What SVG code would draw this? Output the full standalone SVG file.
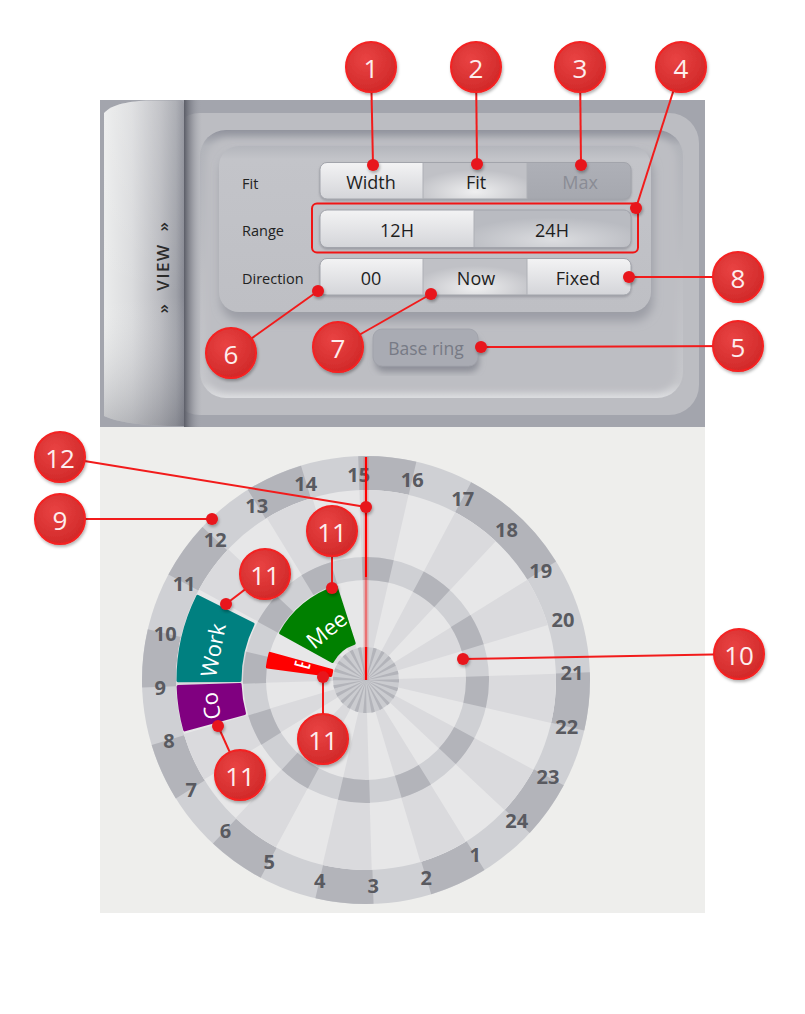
<svg xmlns="http://www.w3.org/2000/svg" width="805" height="1014" viewBox="0 0 805 1014">
<style>
.ui{font-family:"Open Sans","Noto Sans","DejaVu Sans",sans-serif}
.lbl{font-size:14.5px;fill:#222;dominant-baseline:central}
.btn{font-size:18px;fill:#1e1e1e;text-anchor:middle;dominant-baseline:central}
.hr{font-family:"Open Sans","Noto Sans","DejaVu Sans",sans-serif;font-size:20px;font-weight:700;fill:#595a60;text-anchor:middle;dominant-baseline:central}
.ev{font-family:"Open Sans","Noto Sans","DejaVu Sans",sans-serif;font-size:22px;fill:#fff;text-anchor:middle;dominant-baseline:central}
.lead{stroke:#f21b1b;stroke-width:2;fill:none}
.dot{fill:#e8161b;filter:url(#dsh)}
.badge circle{fill:url(#badgeGrad);stroke:#f42020;stroke-width:2;filter:url(#dsh)}
.badge text{font-family:"Open Sans","Noto Sans","DejaVu Sans",sans-serif;font-size:26px;fill:#fdeeee;text-anchor:middle;dominant-baseline:central}
.rowline{fill:none;stroke:#a2a4ab;stroke-width:1}
.sep{stroke:#aeb0b6;stroke-width:1}
</style>
<defs>
<linearGradient id="tabGrad" x1="0" y1="0" x2="1" y2="0">
<stop offset="0" stop-color="#ebecec"/><stop offset="0.35" stop-color="#dadbdd"/><stop offset="0.7" stop-color="#babbc0"/><stop offset="0.9" stop-color="#a0a2a9"/><stop offset="1" stop-color="#868892"/>
</linearGradient>
<linearGradient id="tabShade" x1="0" y1="0" x2="0" y2="1">
<stop offset="0" stop-color="#ffffff" stop-opacity="0.15"/><stop offset="0.6" stop-color="#ffffff" stop-opacity="0"/><stop offset="1" stop-color="#50525c" stop-opacity="0.3"/>
</linearGradient>
<linearGradient id="tabShadow" x1="0" y1="0" x2="1" y2="0">
<stop offset="0" stop-color="#5b5d67"/><stop offset="1" stop-color="#a5a7af" stop-opacity="0"/>
</linearGradient>
<linearGradient id="insetV" x1="0" y1="0" x2="0" y2="1">
<stop offset="0" stop-color="#92949e"/><stop offset="0.06" stop-color="#b2b4ba"/><stop offset="0.5" stop-color="#bdbec3"/><stop offset="0.94" stop-color="#c6c7cb"/><stop offset="1" stop-color="#dcdde0"/>
</linearGradient>
<linearGradient id="groupV" x1="0" y1="0" x2="0" y2="1">
<stop offset="0" stop-color="#b4b6bc"/><stop offset="0.08" stop-color="#c3c4c9"/><stop offset="1" stop-color="#bebfc4"/>
</linearGradient>
<linearGradient id="gLight" x1="0" y1="0" x2="0" y2="1">
<stop offset="0" stop-color="#f3f3f4"/><stop offset="1" stop-color="#d4d5d9"/>
</linearGradient>
<radialGradient id="gGlow" cx="0.5" cy="0.8" r="0.6">
<stop offset="0" stop-color="#efeff0"/><stop offset="1" stop-color="#c0c1c6"/>
</radialGradient>
<radialGradient id="gGlow2" cx="0.5" cy="0.8" r="0.6">
<stop offset="0" stop-color="#dcdde0"/><stop offset="1" stop-color="#b9bbc1"/>
</radialGradient>
<linearGradient id="gDark" x1="0" y1="0" x2="0" y2="1">
<stop offset="0" stop-color="#aeb0b7"/><stop offset="1" stop-color="#a6a8af"/>
</linearGradient>
<radialGradient id="badgeGrad" cx="0.4" cy="0.35" r="0.7">
<stop offset="0" stop-color="#e94343"/><stop offset="1" stop-color="#d02828"/>
</radialGradient>
<filter id="blur3" x="-10%" y="-10%" width="120%" height="120%"><feGaussianBlur stdDeviation="3"/></filter>
<filter id="blur5" x="-20%" y="-20%" width="140%" height="140%"><feGaussianBlur stdDeviation="5"/></filter>
<filter id="dsh" x="-30%" y="-30%" width="160%" height="160%"><feDropShadow dx="1" dy="2" stdDeviation="1.8" flood-color="#000" flood-opacity="0.3"/></filter>
<filter id="rsh" x="-5%" y="-20%" width="110%" height="150%"><feDropShadow dx="0" dy="1.5" stdDeviation="1.2" flood-color="#6a6c75" flood-opacity="0.45"/></filter>
<clipPath id="r1"><rect x="320" y="162.5" width="311" height="36.5" rx="7"/></clipPath>
<clipPath id="r2"><rect x="320" y="210" width="311" height="37.5" rx="7"/></clipPath>
<clipPath id="r3"><rect x="320" y="258.5" width="311" height="36.5" rx="7"/></clipPath>
<clipPath id="cMee"><path d="M280.6,633.0 A97.5,97.5 0 0 1 336.2,587.2 L354.2,643.3 A38.5,38.5 0 0 0 332.3,661.5 Z"/></clipPath>
<clipPath id="cB"><path d="M267.35,667.0 A99.5,99.5 0 0 1 270.1,653.4 L331.8,670.5 A35.5,35.5 0 0 0 330.8,675.4 Z"/></clipPath>
</defs>

<rect x="0" y="0" width="805" height="1014" fill="#ffffff"/>

<g id="view-panel" class="ui">
<rect x="100" y="100" width="605" height="327" fill="#a3a5ad"/>
<rect x="170" y="113" width="529" height="302" rx="30" fill="#bcbdc2"/>
<rect x="200" y="130" width="483" height="268" rx="26" fill="url(#insetV)"/>
<rect x="206" y="138" width="471" height="254" rx="22" fill="#bdbec3" filter="url(#blur3)"/>
<rect x="221" y="153" width="432" height="168" rx="20" fill="#9c9ea6" filter="url(#blur5)"/>
<rect x="219" y="146" width="432" height="166" rx="20" fill="url(#groupV)"/>

<text class="lbl" x="242" y="183">Fit</text>
<text class="lbl" x="242" y="230">Range</text>
<text class="lbl" x="242" y="278">Direction</text>

<g id="row-fit" filter="url(#rsh)">
<g clip-path="url(#r1)">
<rect x="320" y="162.5" width="103" height="36.5" fill="url(#gLight)"/>
<rect x="423" y="162.5" width="104" height="36.5" fill="url(#gGlow)"/>
<rect x="527" y="162.5" width="104" height="36.5" fill="url(#gDark)"/>
</g>
<rect class="rowline" x="320" y="162.5" width="311" height="36.5" rx="7"/>
</g>
<line class="sep" x1="423" y1="163" x2="423" y2="199"/>
<line class="sep" x1="527" y1="163" x2="527" y2="199"/>
<text class="btn" x="371" y="182">Width</text>
<text class="btn" x="476" y="182">Fit</text>
<text class="btn" x="580" y="182" style="fill:#8a8c95">Max</text>

<g id="row-range" filter="url(#rsh)">
<g clip-path="url(#r2)">
<rect x="320" y="210" width="154" height="37.5" fill="url(#gLight)"/>
<rect x="474" y="210" width="157" height="37.5" fill="url(#gGlow2)"/>
</g>
<rect class="rowline" x="320" y="210" width="311" height="37.5" rx="7"/>
</g>
<line class="sep" x1="474" y1="210.5" x2="474" y2="247"/>
<text class="btn" x="397" y="229.5">12H</text>
<text class="btn" x="552" y="229.5">24H</text>

<g id="row-direction" filter="url(#rsh)">
<g clip-path="url(#r3)">
<rect x="320" y="258.5" width="103" height="36.5" fill="url(#gLight)"/>
<rect x="423" y="258.5" width="104" height="36.5" fill="url(#gGlow)"/>
<rect x="527" y="258.5" width="104" height="36.5" fill="url(#gLight)"/>
</g>
<rect class="rowline" x="320" y="258.5" width="311" height="36.5" rx="7"/>
</g>
<line class="sep" x1="423" y1="259" x2="423" y2="295"/>
<line class="sep" x1="527" y1="259" x2="527" y2="295"/>
<text class="btn" x="371" y="278">00</text>
<text class="btn" x="476" y="278">Now</text>
<text class="btn" x="578" y="278">Fixed</text>

<g id="base-ring">
<rect x="375" y="336" width="104" height="36" rx="9" fill="#8d8f98" filter="url(#blur3)"/>
<rect x="373" y="329" width="105" height="37" rx="9" fill="#a9abb3" stroke="#a2a4ac"/>
<text class="btn" x="426" y="348" style="fill:#777a85;font-size:17.5px">Base ring</text>
</g>

<rect x="184" y="100" width="18" height="327" fill="url(#tabShadow)"/>
<g id="view-tab">
<path d="M104,113 C112,104 130,101 150,100.5 L179,100.5 C182.5,100.5 184,102.5 184,106 L184,426 L168,426 C140,425 116,422 104,416 Z" fill="url(#tabGrad)"/>
<path d="M104,113 C112,104 130,101 150,100.5 L179,100.5 C182.5,100.5 184,102.5 184,106 L184,426 L168,426 C140,425 116,422 104,416 Z" fill="url(#tabShade)"/>
<text transform="translate(162,267) rotate(-90)" text-anchor="middle" dominant-baseline="central" style="font-size:17px;font-weight:600;fill:#2b2b2b;letter-spacing:1.5px" xml:space="preserve">»  VIEW  »</text>
</g>
<rect id="range-highlight" x="312" y="203.5" width="326" height="49" rx="5" fill="none" stroke="#f01515" stroke-width="2"/>
</g>

<g id="clock">
<rect x="100" y="427" width="605" height="486" fill="#eeeeec"/>
<circle cx="366" cy="680" r="224" fill="#cfd0d4"/>
<circle cx="366" cy="680" r="207" fill="none" stroke="#b3b4ba" stroke-width="34" stroke-dasharray="54.19 54.19 108.38 108.38 54.19 54.19 54.19 54.19 54.19 54.19 54.19 54.19 54.19 54.19 54.19 54.19 54.19 54.19 54.19 54.19 54.19 54.19 54.19 54.19 54.19 54.19 54.19 54.19" transform="rotate(-92 366 680)"/>
<circle cx="366" cy="680" r="190" fill="#e7e7e8"/>
<circle cx="366" cy="680" r="95" fill="none" stroke="#dadadd" stroke-width="190" stroke-dasharray="24.87 24.87" transform="rotate(-92 366 680)"/>
<circle cx="366" cy="680" r="111.5" fill="none" stroke="#cfd0d4" stroke-width="23"/>
<circle cx="366" cy="680" r="111.5" fill="none" stroke="#b3b4ba" stroke-width="23" stroke-dasharray="29.19 29.19" transform="rotate(-92 366 680)"/>
<circle cx="366" cy="680" r="33" fill="#cbccd0"/>
<circle cx="366" cy="680" r="16.5" fill="none" stroke="#b3b4ba" stroke-width="33" stroke-dasharray="1.728 2.592" transform="rotate(-92 366 680)"/>

<g id="hour-labels">
<text class="hr" x="358.8" y="474.1">15</text>
<text class="hr" x="412.3" y="479.3">16</text>
<text class="hr" x="462.7" y="498.1">17</text>
<text class="hr" x="506.5" y="529.3">18</text>
<text class="hr" x="540.7" y="570.8">19</text>
<text class="hr" x="563.0" y="619.8">20</text>
<text class="hr" x="571.9" y="672.8">21</text>
<text class="hr" x="566.7" y="726.3">22</text>
<text class="hr" x="547.9" y="776.7">23</text>
<text class="hr" x="516.7" y="820.5">24</text>
<text class="hr" x="475.2" y="854.7">1</text>
<text class="hr" x="426.2" y="877.0">2</text>
<text class="hr" x="373.2" y="885.9">3</text>
<text class="hr" x="319.7" y="880.7">4</text>
<text class="hr" x="269.3" y="861.9">5</text>
<text class="hr" x="225.5" y="830.7">6</text>
<text class="hr" x="191.3" y="789.2">7</text>
<text class="hr" x="169.0" y="740.2">8</text>
<text class="hr" x="160.1" y="687.2">9</text>
<text class="hr" x="165.3" y="633.7">10</text>
<text class="hr" x="184.1" y="583.3">11</text>
<text class="hr" x="215.3" y="539.5">12</text>
<text class="hr" x="256.8" y="505.3">13</text>
<text class="hr" x="305.8" y="483.0">14</text>
</g>

<g id="event-work">
<path d="M178.0,680.7 A188,188 0 0 1 197.6,596.4 L253.1,624.0 A126,126 0 0 0 240.0,680.4 Z" fill="#008080" stroke="#008080" stroke-width="3" stroke-linejoin="round"/>
<text class="ev" transform="translate(212,650) rotate(-79)">Work</text>
</g>
<g id="event-co">
<path d="M184.7,729.9 A188,188 0 0 1 178.1,686.6 L240.1,684.4 A126,126 0 0 0 244.5,713.5 Z" fill="#800080" stroke="#800080" stroke-width="3" stroke-linejoin="round"/>
<text class="ev" transform="translate(210,706) rotate(-99.5)">Co</text>
</g>
<g id="event-mee">
<path d="M280.6,633.0 A97.5,97.5 0 0 1 336.2,587.2 L354.2,643.3 A38.5,38.5 0 0 0 332.3,661.5 Z" fill="#008000" stroke="#008000" stroke-width="3" stroke-linejoin="round"/>
<g clip-path="url(#cMee)"><text class="ev" transform="translate(326,629) rotate(-39)">Mee</text></g>
</g>
<g id="event-b">
<path d="M267.35,667.0 A99.5,99.5 0 0 1 270.1,653.4 L331.8,670.5 A35.5,35.5 0 0 0 330.8,675.4 Z" fill="#ff0000" stroke="#ff0000" stroke-width="3" stroke-linejoin="round"/>
<g clip-path="url(#cB)"><text class="ev" transform="translate(302,662) rotate(-76)">B</text></g>
</g>

<g id="now-line">
<line x1="366" y1="457" x2="366" y2="680" stroke="#ff0000" stroke-opacity="0.2" stroke-width="5"/>
<line x1="366" y1="457" x2="366" y2="577" stroke="#ff0000" stroke-width="2"/>
<line x1="366" y1="577" x2="366" y2="647" stroke="#ff0000" stroke-opacity="0.35" stroke-width="2"/>
<line x1="366" y1="647" x2="366" y2="680" stroke="#ff0000" stroke-width="2"/>
</g>
</g>

<g id="connectors">
<path class="lead" d="M373,165 L371,67"/>
<path class="lead" d="M477,164 L476,67"/>
<path class="lead" d="M581,165 L580,67"/>
<path class="lead" d="M636,208 L681,67"/>
<path class="lead" d="M629,277 L738,277"/>
<path class="lead" d="M481,347 L738,346"/>
<path class="lead" d="M318,291 L231,353"/>
<path class="lead" d="M431,294 L338,347"/>
<path class="lead" d="M366,507 L60,457"/>
<path class="lead" d="M212,519 L60,519"/>
<path class="lead" d="M463,659 L739,654"/>
<path class="lead" d="M332,588 L332,531"/>
<path class="lead" d="M226,604 L265,574"/>
<path class="lead" d="M323,677 L323,739"/>
<path class="lead" d="M218,726 L240,775"/>
<circle class="dot" cx="373" cy="165" r="6"/>
<circle class="dot" cx="477" cy="164" r="6"/>
<circle class="dot" cx="581" cy="165" r="6"/>
<circle class="dot" cx="636" cy="208" r="6"/>
<circle class="dot" cx="629" cy="277" r="6"/>
<circle class="dot" cx="481" cy="347" r="6"/>
<circle class="dot" cx="318" cy="291" r="6"/>
<circle class="dot" cx="431" cy="294" r="6"/>
<circle class="dot" cx="366" cy="507" r="6"/>
<circle class="dot" cx="212" cy="519" r="6"/>
<circle class="dot" cx="463" cy="659" r="6"/>
<circle class="dot" cx="332" cy="588" r="6"/>
<circle class="dot" cx="226" cy="604" r="6"/>
<circle class="dot" cx="323" cy="677" r="6"/>
<circle class="dot" cx="218" cy="726" r="6"/>
</g>

<g id="badge-1" class="badge"><circle cx="371" cy="67" r="25"/><text x="371" y="68">1</text></g>
<g id="badge-2" class="badge"><circle cx="476" cy="67" r="25"/><text x="476" y="68">2</text></g>
<g id="badge-3" class="badge"><circle cx="580" cy="67" r="25"/><text x="580" y="68">3</text></g>
<g id="badge-4" class="badge"><circle cx="681" cy="67" r="25"/><text x="681" y="68">4</text></g>
<g id="badge-8" class="badge"><circle cx="738" cy="277" r="25"/><text x="738" y="278">8</text></g>
<g id="badge-5" class="badge"><circle cx="738" cy="346" r="25"/><text x="738" y="347">5</text></g>
<g id="badge-6" class="badge"><circle cx="231" cy="353" r="25"/><text x="231" y="354">6</text></g>
<g id="badge-7" class="badge"><circle cx="338" cy="347" r="25"/><text x="338" y="348">7</text></g>
<g id="badge-12" class="badge"><circle cx="60" cy="457" r="25"/><text x="60" y="458">12</text></g>
<g id="badge-9" class="badge"><circle cx="60" cy="519" r="25"/><text x="60" y="520">9</text></g>
<g id="badge-10" class="badge"><circle cx="739" cy="654" r="25"/><text x="739" y="655">10</text></g>
<g id="badge-11a" class="badge"><circle cx="332" cy="531" r="25"/><text x="332" y="532">11</text></g>
<g id="badge-11b" class="badge"><circle cx="265" cy="574" r="25"/><text x="265" y="575">11</text></g>
<g id="badge-11c" class="badge"><circle cx="323" cy="739" r="25"/><text x="323" y="740">11</text></g>
<g id="badge-11d" class="badge"><circle cx="240" cy="775" r="25"/><text x="240" y="776">11</text></g>
</svg>
